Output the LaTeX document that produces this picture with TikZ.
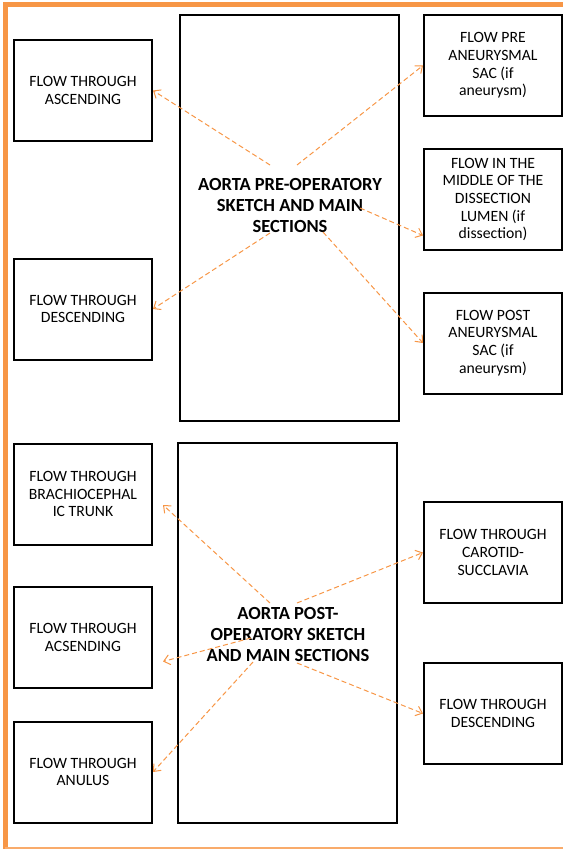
\documentclass[tikz,border=0pt]{standalone}
\usepackage{fontspec}
\setmainfont{Carlito}
\usepackage{xcolor}
\usetikzlibrary{calc,arrows.meta}
\definecolor{frameorange}{RGB}{247,150,70}

\begin{document}
\begin{tikzpicture}[x=1pt,y=-1pt,
  flowbox/.style={rectangle, draw=black, line width=2pt, minimum width=138pt, minimum height=101pt, inner sep=0pt, align=center, font=\fontsize{15.7}{17.7}\selectfont},
  bigbox/.style={rectangle, draw=black, line width=2pt, minimum width=219pt, inner sep=0pt},
  maintext/.style={align=center, inner sep=0pt, font=\fontsize{18.5}{21}\selectfont\bfseries},
  flowarrow/.style={draw=frameorange, line width=1pt, dash pattern=on 5pt off 3pt, -{Straight Barb[length=6pt,width=10pt]}}]
\useasboundingbox (0,0) rectangle (563,849);
\draw[frameorange, line width=5pt] (5,849) -- (5,4.5) -- (563,4.5);
\draw[frameorange!80, line width=1.2pt] (5,848) -- (563,848);

\node[bigbox, minimum height=406pt] (pre) at (289.5,218) {};
\node[maintext] (pretxt) at (290,205) {AORTA PRE-OPERATORY\\SKETCH AND MAIN\\SECTIONS};
\node[flowbox] (asc) at (83,90.5) {FLOW THROUGH\\ASCENDING};
\node[flowbox] (desc) at (83,309) {FLOW THROUGH\\DESCENDING};
\node[flowbox] (presac) at (493,65.5) {FLOW PRE\\ANEURYSMAL\\SAC (if\\aneurysm)};
\node[flowbox] (lumen) at (493,199.5) {FLOW IN THE\\MIDDLE OF THE\\DISSECTION\\LUMEN (if\\dissection)};
\node[flowbox] (postsac) at (493,343) {FLOW POST\\ANEURYSMAL\\SAC (if\\aneurysm)};

\node[bigbox, minimum height=380pt] (post) at (287.5,633) {};
\node[maintext] (posttxt) at (288,634) {AORTA POST-\\OPERATORY SKETCH\\AND MAIN SECTIONS};
\node[flowbox] (trunk) at (83,494) {FLOW THROUGH\\BRACHIOCEPHAL\\IC TRUNK};
\node[flowbox] (acs) at (83,637.5) {FLOW THROUGH\\ACSENDING};
\node[flowbox] (anulus) at (83,772) {FLOW THROUGH\\ANULUS};
\node[flowbox] (carotid) at (493,552.5) {FLOW THROUGH\\CAROTID-\\SUCCLAVIA};
\node[flowbox] (desc2) at (493,713.5) {FLOW THROUGH\\DESCENDING};

\coordinate (p1) at (270,165);
\coordinate (p2) at (297,165);
\coordinate (p3) at (360,208);
\coordinate (p4) at (270,233);
\coordinate (p5) at (323,232);
\draw[flowarrow] (p1) -- (asc.east);
\draw[flowarrow] (p2) -- (presac.west);
\draw[flowarrow] (p3) -- ($(lumen.west)+(0,36)$);
\draw[flowarrow] (p4) -- (desc.east);
\draw[flowarrow] (p5) -- (postsac.west);

\coordinate (q1) at (270,603);
\coordinate (q2) at (297,603);
\coordinate (q3) at (251,638);
\coordinate (q4) at (253,662);
\coordinate (q5) at (297,663);
\draw[flowarrow] (q1) -- ($(trunk.east)+(10,11)$);
\draw[flowarrow] (q2) -- (carotid.west);
\draw[flowarrow] (q3) -- ($(acs.east)+(10,24)$);
\draw[flowarrow] (q4) -- (anulus.east);
\draw[flowarrow] (q5) -- (desc2.west);
\end{tikzpicture}
\end{document}
